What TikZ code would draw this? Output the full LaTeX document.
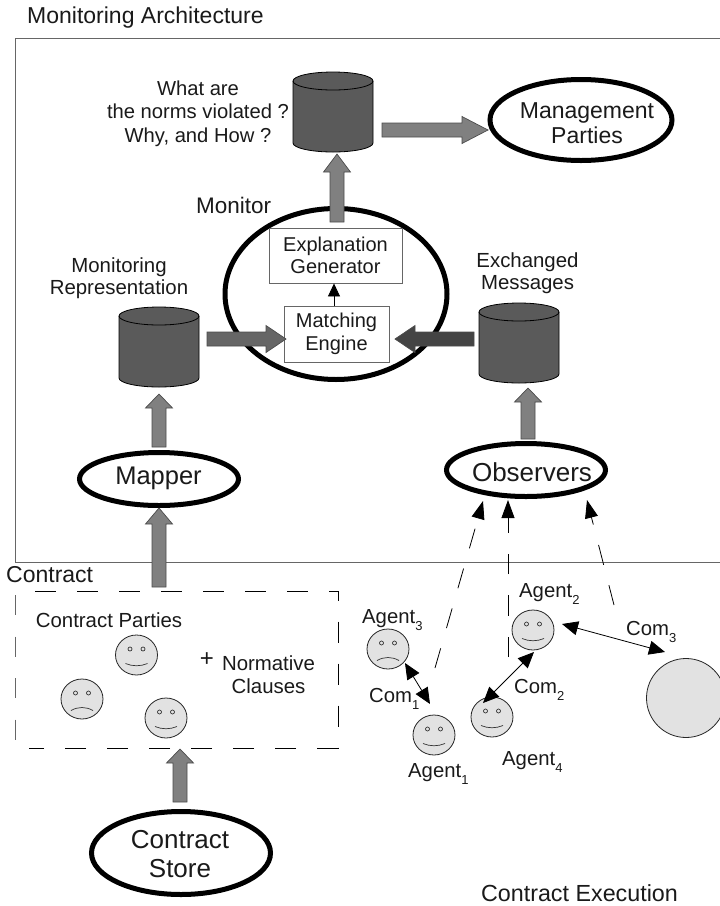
\documentclass[tikz,border=0pt]{standalone}
\usepackage{fontspec}
\setmainfont{Liberation Sans}
\usetikzlibrary{shapes.geometric,calc,arrows.meta}
\newcommand{\fs}[2][0]{\fontsize{#2}{\ifdim#1pt=0pt #2\else #1\fi}\selectfont}
\newcommand{\sbs}[1]{\raisebox{-7pt}{\fs{13}#1}}
\definecolor{fg}{HTML}{1A1A1A}
\definecolor{facegray}{HTML}{E2E2E2}
\definecolor{cylgray}{HTML}{5A5A5A}
\definecolor{arrgray}{HTML}{808080}
\definecolor{arrmid}{HTML}{666666}
\definecolor{arrdark}{HTML}{444444}
\tikzset{
  txt/.style={inner sep=0pt,align=center,text=fg,font=\fs{20}},
  thickell/.style={ellipse,draw=black,line width=5pt,fill=white,inner sep=0pt,outer sep=0pt},
  innerbox/.style={draw=black!60,line width=.9pt,fill=white,inner sep=0pt,align=center,text=fg},
  facenode/.style={ellipse,draw=black!85,line width=.8pt,fill=facegray,minimum width=42pt,minimum height=40pt,inner sep=0pt},
  tipped/.style={draw=black,line width=.8pt,{Triangle[length=16pt,width=14pt]}-{Triangle[length=16pt,width=14pt]}},
  dasharrow/.style={draw=black,line width=.8pt,dash pattern=on 20.5pt off 21pt,-{Triangle[length=18pt,width=13pt]}},
  boxdash/.style={black,line width=.8pt,dash pattern=on 21pt off 21pt},
}
% block arrow: from, to, fill, head length
\newcommand{\blockarrow}[4]{%
  \coordinate (hb) at ($(#2)!#4pt!(#1)$);
  \draw[draw=black!70,line width=.7pt,fill=#3]
    ($(#1)!7pt!90:(#2)$) -- ($(hb)!7pt!-90:(#1)$) -- ($(hb)!13.5pt!-90:(#1)$) -- (#2)
    -- ($(hb)!13.5pt!90:(#1)$) -- ($(hb)!7pt!90:(#1)$) -- ($(#1)!7pt!-90:(#2)$) -- cycle;
}
% cylinder: name, left x, top y
\newcommand{\cyl}[3]{%
  \path[draw=black,line width=.8pt,fill=cylgray]
    (#2,#3+9) -- (#2,#3+71) arc[start angle=180,end angle=0,x radius=40,y radius=9]
    -- (#2+80,#3+9) arc[start angle=0,end angle=-180,x radius=40,y radius=9] -- cycle;
  \draw[line width=.8pt] (#2,#3+9) arc[start angle=180,end angle=0,x radius=40,y radius=9];
  \coordinate (#1) at (#2+40,#3+40);
}
% face: name, x, y, happy(1) or sad(0)
\newcommand{\face}[4]{%
  \node[facenode] (#1) at (#2,#3) {};
  \draw[black!80,line width=.7pt] ($(#1)+(-6.5,-6)$) circle[radius=2];
  \draw[black!80,line width=.7pt] ($(#1)+(6.5,-6)$) circle[radius=2];
  \ifnum#4=1
    \draw[black!80,line width=.7pt] ($(#1)+(-11,8.5)$) .. controls ($(#1)+(-4,11.5)$) and ($(#1)+(4,11.5)$) .. ($(#1)+(11,8.5)$);
  \else
    \draw[black!80,line width=.7pt] ($(#1)+(-11,11.5)$) .. controls ($(#1)+(-4,7.5)$) and ($(#1)+(4,7.5)$) .. ($(#1)+(11,11.5)$);
  \fi
}
\begin{document}
\begin{tikzpicture}[x=1pt,y=-1pt]
\useasboundingbox[fill=white] (0,0) rectangle (720,906);
\begin{scope}
\clip (0,0) rectangle (720,906);
% frames
\draw[black!60,line width=.9pt] (730,38) -- (15,38) -- (15,562.5) -- (730,562.5);
\draw[boxdash,dash phase=11.5pt] (338,591) -- (32,591);
\draw[boxdash,dash phase=11.5pt] (338,591) -- (338,748);
\draw[boxdash] (338,748) -- (29,748);
\draw[black!60,line width=.8pt,dash pattern=on 20pt off 21.5pt] (15,595) -- (15,742);

\node[txt,anchor=base west,font=\fs{23}] (title) at (27,23) {Monitoring Architecture};
\node[txt,anchor=base west,font=\fs{23}] (contractlbl) at (6,582) {Contract};
\node[txt,anchor=base,font=\fs{23.3}] (contractexec) at (579.5,901) {Contract Execution};

% thick ellipses
\node[thickell,minimum width=182pt,minimum height=81pt] (mgmt) at (581,120) {};
\node[txt,font={\fs[25]{23}}] (mgmtl) at (587,123) {Management\\Parties};
\node[thickell,minimum width=222pt,minimum height=171pt] (monitor) at (336,294) {};
\node[txt,anchor=base west,font=\fs{22.5}] (monl) at (196,213) {Monitor};
\node[thickell,minimum width=159pt,minimum height=53pt] (mapper) at (159,479) {};
\node[txt,anchor=base,font=\fs{25.5}] (mapl) at (158.5,484) {Mapper};
\node[thickell,minimum width=159pt,minimum height=53pt] (observers) at (526,470) {};
\node[txt,anchor=base,font=\fs{26}] (obsl) at (532,481) {Observers};
\node[thickell,minimum width=179pt,minimum height=83pt] (store) at (181,853) {};
\node[txt,font={\fs[29]{26}}] (storel) at (180,854) {Contract\\Store};

% cylinders
\cyl{db1}{293}{72}
\cyl{db2}{119}{307}
\cyl{db3}{479}{303}
\node[txt,font={\fs[23.5]{20.2}}] (whatl) at (198,113.5) {What are\\the norms violated ?\\Why, and How ?};
\node[txt,font={\fs[22]{20.4}}] (reprl) at (119,278.5) {Monitoring\\Representation};
\node[txt,font={\fs[22]{20.4}}] (exchl) at (527.5,273) {Exchanged\\Messages};

% inner boxes
\node[innerbox,font={\fs[22]{20}},minimum width=133pt,minimum height=55pt] (expl) at (335.5,255.5) {\rule{0pt}{1pt}\raisebox{-1pt}{Explanation}\\\raisebox{-1pt}{Generator}};
\node[innerbox,font={\fs[23]{20}},minimum width=105pt,minimum height=56pt] (match) at (336.5,334) {\raisebox{-1.5pt}{Matching}\\\raisebox{-1pt}{Engine}};
\draw[black,line width=.8pt,-{Triangle[length=13pt,width=12pt]}] (match.north -| 334,0) -- (expl.south -| 334,0);

% block arrows
\coordinate (a1) at (337,222); \coordinate (a2) at (337,154); \blockarrow{a1}{a2}{arrgray}{18}
\coordinate (b1) at (382,130); \coordinate (b2) at (488,130); \blockarrow{b1}{b2}{arrgray}{26}
\coordinate (c1) at (207,339); \coordinate (c2) at (286,339); \blockarrow{c1}{c2}{arrmid}{20}
\coordinate (d1) at (474,339); \coordinate (d2) at (395,339); \blockarrow{d1}{d2}{arrdark}{20}
\coordinate (e1) at (159,447); \coordinate (e2) at (159,394); \blockarrow{e1}{e2}{arrgray}{14}
\coordinate (f1) at (528,439); \coordinate (f2) at (528,388); \blockarrow{f1}{f2}{arrgray}{14}
\coordinate (g1) at (159,587); \coordinate (g2) at (159,508); \blockarrow{g1}{g2}{arrgray}{16}
\coordinate (h1) at (180,802); \coordinate (h2) at (180,749); \blockarrow{h1}{h2}{arrgray}{14}

% contract faces
\face{p1}{136.5}{655}{1}
\face{p2}{82}{699}{0}
\face{p3}{166}{718}{1}
\node[txt,font=\fs{20.4}] (partiesl) at (109,620) {Contract Parties};
\node[txt,font=\fs{24}] (plusl) at (207,660) {+};
\node[txt,font={\fs[22.5]{20.4}}] (normsl) at (268.5,674.5) {Normative\\Clauses};

% agents
\face{ag3}{388}{649}{0}
\face{ag1}{434}{735}{1}
\face{ag4}{492}{717}{1}
\face{ag2}{533}{630}{1}
\node[ellipse,draw=black!85,line width=.8pt,fill=facegray,minimum width=79pt,minimum height=79pt,inner sep=0pt] (big) at (686,698) {};
\node[txt,anchor=base west,font=\fs{20.3}] (ag3l) at (362,623) {Agent\sbs{3}};
\node[txt,anchor=base west,font=\fs{20.3}] (ag2l) at (519,597) {Agent\sbs{2}};
\node[txt,anchor=base west,font=\fs{20.3}] (ag1l) at (408,777) {Agent\sbs{1}};
\node[txt,anchor=base west,font=\fs{20.3}] (ag4l) at (502,765) {Agent\sbs{4}};
\node[txt,anchor=base west,font=\fs{20.3}] (com1l) at (369,702) {Com\sbs{1}};
\node[txt,anchor=base west,font=\fs{20.3}] (com2l) at (514,693) {Com\sbs{2}};
\node[txt,anchor=base west,font=\fs{20.3}] (com3l) at (626,635) {Com\sbs{3}};

% communication arrows
\coordinate (k1) at (405,663); \coordinate (k2) at (430,704); \draw[tipped] (k1) -- (k2);
\coordinate (k3) at (534,652); \coordinate (k4) at (483,703); \draw[tipped] (k3) -- (k4);
\coordinate (k5) at (562,624); \coordinate (k6) at (665,652); \draw[tipped] (k5) -- (k6);

% observation arrows
\coordinate (o1) at (435,668); \coordinate (o2) at (483,501); \draw[dasharrow] (o1) -- (o2);
\coordinate (o3) at (508,657); \coordinate (o4) at (508,500); \draw[dasharrow] (o3) -- (o4);
\coordinate (o5) at (614,605); \coordinate (o6) at (587,500); \draw[dasharrow] (o5) -- (o6);
\end{scope}
\end{tikzpicture}
\end{document}
